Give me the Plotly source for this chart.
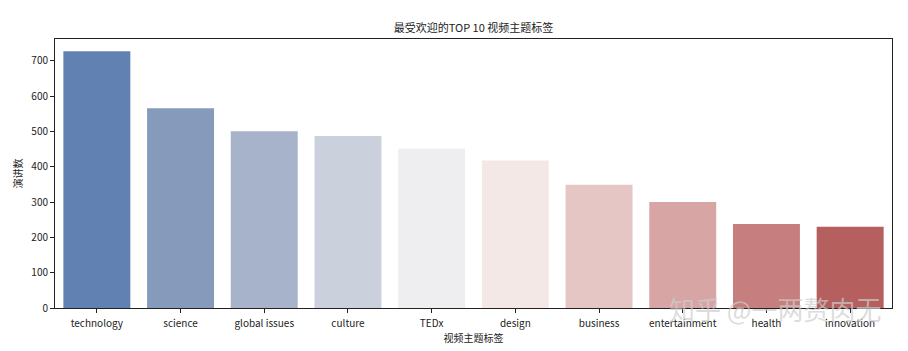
import plotly.graph_objects as go

categories = ["technology", "science", "global issues", "culture", "TEDx",
              "design", "business", "entertainment", "health", "innovation"]
counts = [727, 566, 501, 487, 451, 418, 349, 300, 238, 230]
colors = ["#6181b3", "#869bbc", "#a7b3ca", "#cbd0dd", "#eeeef1",
          "#f4e8e6", "#e6c6c4", "#d7a5a4", "#c67f7e", "#b55f5e"]
y_ticks = [0, 100, 200, 300, 400, 500, 600, 700]

FONT = "Noto Sans CJK SC"

fig = go.Figure(go.Bar(x=categories, y=counts, marker=dict(color=colors, line=dict(width=0)),
                       width=0.8))

fig.update_layout(
    width=908, height=351,
    margin=dict(l=55, r=16, t=39, b=40),
    paper_bgcolor="white", plot_bgcolor="white",
    font=dict(family=FONT, size=10, color="#222222"),
    title=dict(text="最受欢迎的TOP 10 视频主题标签", x=0.5, xanchor="center",
               xref="paper", y=1 - 28 / 351, yanchor="middle",
               font=dict(family=FONT, size=11, color="#222222")),
    showlegend=False,
    bargap=0.2,
)
fig.update_xaxes(
    range=[-0.5, 9.5], showline=True, linecolor="#222222", linewidth=1, mirror=True,
    ticks="outside", ticklen=4, tickcolor="#222222", showgrid=False,
    ticklabelstandoff=2,
    title=dict(text="视频主题标签", font=dict(family=FONT, size=10), standoff=2),
    tickfont=dict(family=FONT, size=10),
)
fig.update_yaxes(
    range=[0, 762], showline=True, linecolor="#222222", linewidth=1, mirror=True,
    ticks="outside", ticklen=4, tickcolor="#222222", showgrid=False, zeroline=False,
    tickvals=y_ticks, title=dict(text="演讲数", font=dict(family=FONT, size=10), standoff=6),
    tickfont=dict(family=FONT, size=10),
)
fig.add_annotation(text="知乎 @一两赘肉无", xref="paper", yref="paper",
                   x=(883 - 55) / 837, y=0.0, xanchor="right", yanchor="middle", showarrow=False,
                   font=dict(family=FONT, size=26, color="rgba(205,205,205,0.7)"))

fig.write_html("out.html")
